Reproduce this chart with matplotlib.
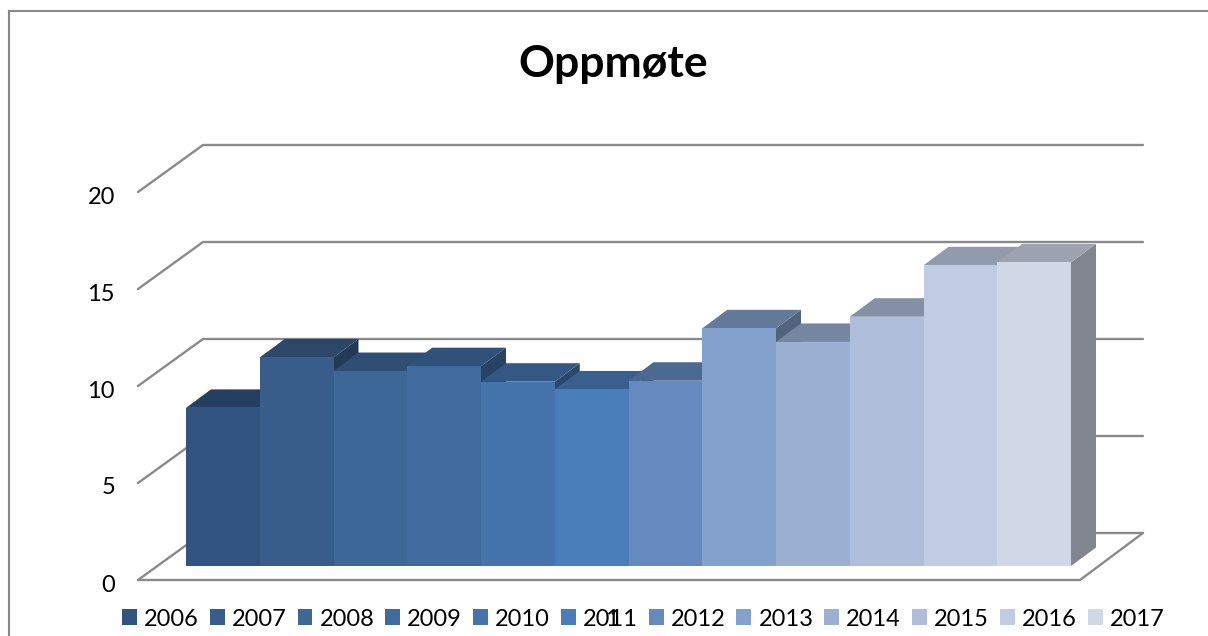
import matplotlib
matplotlib.use("Agg")
import matplotlib.pyplot as plt
from matplotlib.patches import Polygon, Patch
from matplotlib.lines import Line2D
from matplotlib.colors import to_rgb

# ---- data ----
title = "Oppmøte"
years = ["2006", "2007", "2008", "2009", "2010", "2011",
         "2012", "2013", "2014", "2015", "2016", "2017"]
values = [8.15, 10.75, 10.05, 10.3, 9.5, 9.1, 9.55, 12.25, 11.55, 12.85, 15.5, 15.65]
colors = ["#315380", "#385D8A", "#3D6797", "#3F6B9F", "#4574AD", "#4A7EBB",
          "#648AC0", "#84A0CC", "#9CB0D3", "#AEBDD9", "#BFCCE3", "#D0D7E6"]
y_ticks = [0, 5, 10, 15, 20]
category_label = "1"

W, H = 1208, 636
PXU_X, PXU_Y = 73.75, 19.4   # pixels per category / per unit value

plt.rcParams["font.family"] = ["Lato", "DejaVu Sans"]
fig = plt.figure(figsize=(W / 100, H / 100), dpi=100, facecolor="white")

# axes: category -0.5..11.5 spans x 186..1071, value 0..20 rises from y=566
left, right, bottom = 186, 1071, 566
ax = fig.add_axes([left / W, (H - bottom) / H, (right - left) / W, 20 * PXU_Y / H])
ax.set_xlim(-0.5, 11.5)
ax.set_ylim(0, 20)
ax.axis("off")

# 3-D depth, expressed in data units
DX, DY = 25 / PXU_X, 18.5 / PXU_Y
# frame
FX0 = (138 - left) / PXU_X - 0.5   # front-left
FX1 = (1080 - left) / PXU_X - 0.5  # front-right
BX0 = (203 - left) / PXU_X - 0.5   # back-left
BX1 = (1143 - left) / PXU_X - 0.5  # back-right
FY = (bottom - 580) / PXU_Y        # front offset
BY = (bottom - 533) / PXU_Y        # back offset

GRID = "#8A8A8A"
kw = dict(color=GRID, lw=1.7, clip_on=False, solid_capstyle="round", zorder=1)
for v in y_ticks:
    ax.plot([FX0, BX0, BX1], [v + FY, v + BY, v + BY], **kw)
    ax.text(-0.5 - 71 / PXU_X, v + FY - 5 / PXU_Y, str(v), ha="right", va="center",
            fontsize=17, color="black", clip_on=False)
ax.plot([FX0, FX1, BX1], [FY, FY, BY], **kw)


def shade(c, k):
    return tuple(x * k for x in to_rgb(c))


for i, (val, col) in enumerate(zip(values, colors)):
    x0, x1 = i - 0.5, i + 0.5
    ax.add_patch(Polygon([(x1, 0), (x1 + DX, DY), (x1 + DX, val + DY), (x1, val)],
                         closed=True, fc=shade(col, 0.62), ec="none", zorder=2 + i, clip_on=False))
    ax.add_patch(Polygon([(x0, val), (x0 + DX, val + DY), (x1 + DX, val + DY), (x1, val)],
                         closed=True, fc=shade(col, 0.76), ec="none", zorder=2 + i, clip_on=False))
    ax.add_patch(Polygon([(x0, 0), (x1, 0), (x1, val), (x0, val)],
                         closed=True, fc=col, ec="none", zorder=2 + i, clip_on=False))

# title, category label, legend
fig.text(613.5 / W, 1 - 64 / H, title, ha="center", va="center",
         fontsize=32, fontweight="bold", color="black")
fig.text(612 / W, 1 - 619 / H, category_label, ha="center", va="center",
         fontsize=17, color="black", zorder=10)

handles = [Patch(fc=c, ec="none", label=y) for c, y in zip(colors, years)]
fig.legend(handles=handles, ncol=12, frameon=False, fontsize=17,
           loc="center left", bbox_to_anchor=(122 / W, 1 - 619 / H),
           borderaxespad=0, borderpad=0, handlelength=0.635, handleheight=0.635,
           handletextpad=0.3, columnspacing=0.46)

# outer chart border (no right edge in the reference)
for xs, ys in [((9, 9), (636, 11)), ((9, 1208), (11, 11))]:
    fig.add_artist(Line2D([x / W for x in xs], [1 - y / H for y in ys],
                          transform=fig.transFigure, color="#888888", lw=1.5))

fig.savefig("out.png", dpi=100)
